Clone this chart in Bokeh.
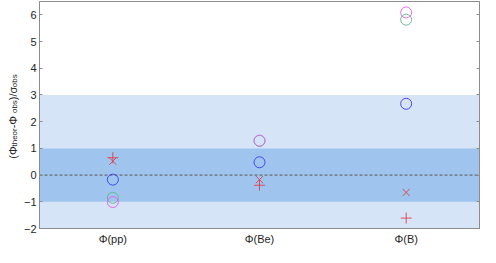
import numpy as np
from bokeh.plotting import figure
from bokeh.layouts import row
from bokeh.models import (FixedTicker, LinearAxis, Range1d, Span, BoxAnnotation,
                          CustomJSTickFormatter)
from bokeh.core.properties import value
from bokeh.embed import file_html
from bokeh.resources import INLINE

# ---- data ----
categories = ["Φ(pp)", "Φ(Be)", "Φ(B)"]
cat_pos = [1, 2, 3]
plus_vals = [0.65, -0.38, -1.61]
cross_vals = [0.52, -0.17, -0.65]
blue_vals = [-0.17, 0.48, 2.67]
green_vals = [-0.85, 1.28, 5.82]
magenta_vals = [-1.01, 1.29, 6.09]
y_ticks = [-2, -1, 0, 1, 2, 3, 4, 5, 6]
inner_band = [-1, 1]
outer_band = [-3, 3]

FONT = "Liberation Sans"
AX = "#8c8c8c"
TXT = "#262626"
RED = "#e0404c"
BLUE = "#3a3af0"
GREEN = "#5fb58f"
MAG = "#e060e8"

H = 247
LW = 20            # width of the y-label strip
W = 480 - LW
BL, BR, BT, BB = 6, 1, 1, 18

p = figure(width=W, height=H, output_backend="svg", toolbar_location=None,
           x_range=Range1d(0.5, 3.5), y_range=Range1d(-2, 6.5),
           min_border_left=BL, min_border_right=BR, min_border_top=BT,
           min_border_bottom=BB)
p.xgrid.visible = False
p.ygrid.visible = False
p.outline_line_color = AX
p.outline_line_width = 1

p.add_layout(BoxAnnotation(bottom=outer_band[0], top=outer_band[1],
                           fill_color="#d6e4f8", fill_alpha=1.0,
                           line_color=None, level="underlay"))
p.add_layout(BoxAnnotation(bottom=inner_band[0], top=inner_band[1],
                           fill_color="#9fc4ed", fill_alpha=1.0,
                           line_color=None, level="underlay"))
p.add_layout(Span(location=0, dimension="width", line_color="#5a5a5a",
                  line_dash="3 2", line_width=1, level="underlay"))

# markers
p.scatter(cat_pos, plus_vals, marker="cross", size=11, line_color=RED, line_width=0.9)
p.scatter(cat_pos, cross_vals, marker="x", size=10, line_color=RED, line_width=0.9)
p.scatter(cat_pos, blue_vals, marker="circle", size=11, fill_color=None,
          line_color=BLUE, line_width=0.9)
p.scatter(cat_pos, green_vals, marker="circle", size=11, fill_color=None,
          line_color=GREEN, line_width=0.9)
p.scatter(cat_pos, magenta_vals, marker="circle", size=11, fill_color=None,
          line_color=MAG, line_width=0.9)

# x axis
xa = p.xaxis[0]
xa.ticker = FixedTicker(ticks=cat_pos)
xa.major_label_overrides = {c: s for c, s in zip(cat_pos, categories)}
xa.major_tick_in = 0
xa.major_tick_out = 0
xa.minor_tick_line_color = None
xa.axis_line_color = AX
xa.major_label_text_font = FONT
xa.major_label_text_font_size = "11px"
xa.major_label_text_color = TXT
xa.major_label_standoff = 4

# y axis
ya = p.yaxis[0]
ya.ticker = FixedTicker(ticks=y_ticks)
ya.major_tick_in = 3
ya.major_tick_out = 0
ya.major_tick_line_color = AX
ya.minor_tick_line_color = None
ya.axis_line_color = AX
ya.major_label_text_font = FONT
ya.major_label_text_font_size = "11px"
ya.major_label_text_color = TXT
ya.major_label_standoff = 3

ra = LinearAxis(ticker=FixedTicker(ticks=y_ticks),
                formatter=CustomJSTickFormatter(code="return ''"),
                major_tick_in=3, major_tick_out=0, major_tick_line_color=AX,
                minor_tick_line_color=None, axis_line_color=AX,
                major_label_standoff=0, major_label_text_font_size="1px")
p.add_layout(ra, "right")

# ---- y-axis label strip (pieces with subscripts) ----
lab = figure(frame_width=LW, frame_height=H, output_backend="svg",
             toolbar_location=None, x_axis_location=None, y_axis_location=None,
             x_range=Range1d(0, LW), y_range=Range1d(0, H),
             min_border_left=0, min_border_right=0, min_border_top=0,
             min_border_bottom=0, outline_line_color=None)
lab.grid.visible = False

cw = {'(': .333, ')': .333, '/': .278, ' ': .278, '-': .333, 'Φ': .778,
      'σ': .57, 't': .278, 'h': .556, 'e': .556, 'o': .556, 'r': .333,
      'b': .556, 's': .5}
pieces = [("(Φ", False), ("theor", True), (" -Φ", False), ("obs", True),
          (")/σ", False), ("obs", True)]
MAIN, SUB = 11, 8
lens = [sum(cw[c] for c in t) * (SUB if s else MAIN) for t, s in pieces]
total = sum(lens)
ycenter = BB + (H - BB - BT) / 2
y0 = ycenter - total / 2
for (t, s), L in zip(pieces, lens):
    lab.text(x=[14.0 if s else 12.0], y=[y0], text=[t], angle=np.pi / 2,
             text_align="left", text_baseline="alphabetic",
             text_font=value(FONT), text_font_size=f"{SUB if s else MAIN}px",
             text_color=TXT)
    y0 += L

open("out.html", "w").write(file_html(row(lab, p), INLINE))
